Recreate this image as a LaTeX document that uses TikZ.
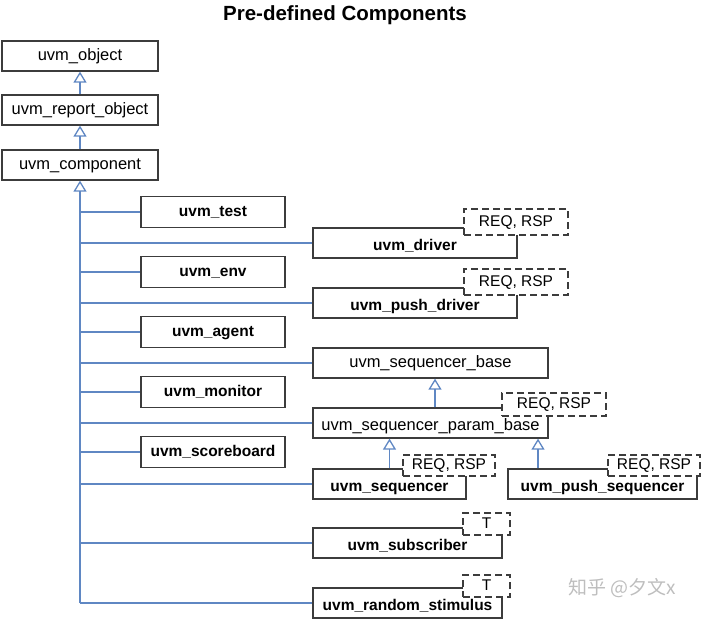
\documentclass[tikz,border=0pt]{standalone}
\usepackage{fontspec}
\setmainfont{Liberation Sans}
\newfontfamily\cjkfont{Noto Sans CJK SC}
\usepackage{tikz}
\usetikzlibrary{arrows.meta,positioning,calc}
\definecolor{edge}{RGB}{60,60,60}
\definecolor{link}{RGB}{95,135,195}
\definecolor{mark}{RGB}{190,190,190}

\begin{document}
\begin{tikzpicture}[x=1pt,y=-1pt,
  every node/.style={inner sep=0pt,text height=11.5pt,text depth=3.5pt,font=\fontsize{16.5}{18}\selectfont},
  cls/.style={draw=edge,line width=1.3pt,fill=white,minimum height=30pt},
  bcls/.style={cls,font=\fontsize{15.5}{18}\selectfont\bfseries},
  low/.style={text height=14pt,text depth=0pt},
  param/.style={draw=edge,line width=1.3pt,fill=white,dash pattern=on 7pt off 4pt,font=\fontsize{15.5}{18}\selectfont},
  wire/.style={draw=link,line width=1.3pt},
  inh/.style={wire,-{Triangle[open,width=13pt,length=11pt]}}]
\useasboundingbox (0,0) rectangle (701,619);
\node[font=\fontsize{20.5}{24}\selectfont\bfseries] (title) at (345,16) {Pre-defined Components};
\node[cls,minimum width=156pt] (obj) at (80,56) {uvm\_object};
\node[cls,minimum width=156pt] (report) at (80,110) {uvm\_report\_object};
\node[cls,minimum width=156pt] (comp) at (80,165) {uvm\_component};
\node[bcls,minimum width=144pt,minimum height=31pt] (test) at (213,212) {uvm\_test};
\node[bcls,minimum width=144pt,minimum height=31pt] (env) at (213,272) {uvm\_env};
\node[bcls,minimum width=144pt,minimum height=31pt] (agent) at (213,332) {uvm\_agent};
\node[bcls,minimum width=144pt,minimum height=31pt] (monitor) at (213,392) {uvm\_monitor};
\node[bcls,minimum width=144pt,minimum height=31pt] (scoreboard) at (213,452) {uvm\_scoreboard};
\node[bcls,low,minimum width=204pt] (driver) at (415,243) {uvm\_driver};
\node[param,minimum width=104pt,minimum height=26pt] (driverp) at (516,222) {REQ, RSP};
\node[bcls,low,minimum width=204pt] (pushdriver) at (415,303) {uvm\_push\_driver};
\node[param,minimum width=104pt,minimum height=26pt] (pushdriverp) at (516,282) {REQ, RSP};
\node[cls,minimum width=235pt] (seqbase) at (430.5,363) {uvm\_sequencer\_base};
\node[cls,low,minimum width=235pt] (parambase) at (430.5,423) {uvm\_sequencer\_param\_base};
\node[param,minimum width=104pt,minimum height=23pt] (parambasep) at (554,404.5) {REQ, RSP};
\node[bcls,low,minimum width=153pt] (sequencer) at (389.5,484) {uvm\_sequencer};
\node[param,minimum width=92pt,minimum height=21pt] (sequencerp) at (449,465.5) {REQ, RSP};
\node[bcls,low,minimum width=189pt] (pushseq) at (602.5,484) {uvm\_push\_sequencer};
\node[param,minimum width=92pt,minimum height=21pt] (pushseqp) at (654,465.5) {REQ, RSP};
\node[bcls,low,minimum width=189pt] (subscriber) at (407.5,543) {uvm\_subscriber};
\node[param,minimum width=47pt,minimum height=22pt] (subscriberp) at (486.5,524) {T};
\node[bcls,low,minimum width=189pt] (stimulus) at (407.5,603) {uvm\_random\_stimulus};
\node[param,minimum width=47pt,minimum height=22pt] (stimulusp) at (486.5,586) {T};
\node[font=\fontsize{19}{22}\cjkfont,text=mark] (wm) at (622,590) {知乎 @夕文x};
\draw[inh] (report) -- (obj);
\draw[inh] (comp) -- (report);
\draw[inh] (comp.south |- stimulus) -- (comp.south);
\draw[wire] (comp.south |- test) -- (test.west);
\draw[wire] (comp.south |- driver) -- (driver.west);
\draw[wire] (comp.south |- env) -- (env.west);
\draw[wire] (comp.south |- pushdriver) -- (pushdriver.west);
\draw[wire] (comp.south |- agent) -- (agent.west);
\draw[wire] (comp.south |- seqbase) -- (seqbase.west);
\draw[wire] (comp.south |- monitor) -- (monitor.west);
\draw[wire] (comp.south |- parambase) -- (parambase.west);
\draw[wire] (comp.south |- scoreboard) -- (scoreboard.west);
\draw[wire] (comp.south |- sequencer) -- (sequencer.west);
\draw[wire] (comp.south |- subscriber) -- (subscriber.west);
\draw[wire] (comp.south |- stimulus) -- (stimulus.west);
\draw[inh] ([xshift=4.5pt]parambase.north) -- ([xshift=4.5pt]seqbase.south);
\draw[inh] (sequencer.north) -- (sequencer.north |- parambase.south);
\draw[inh] ([xshift=-64.5pt]pushseq.north) -- ([xshift=-64.5pt]pushseq.north |- parambase.south);
\end{tikzpicture}
\end{document}
